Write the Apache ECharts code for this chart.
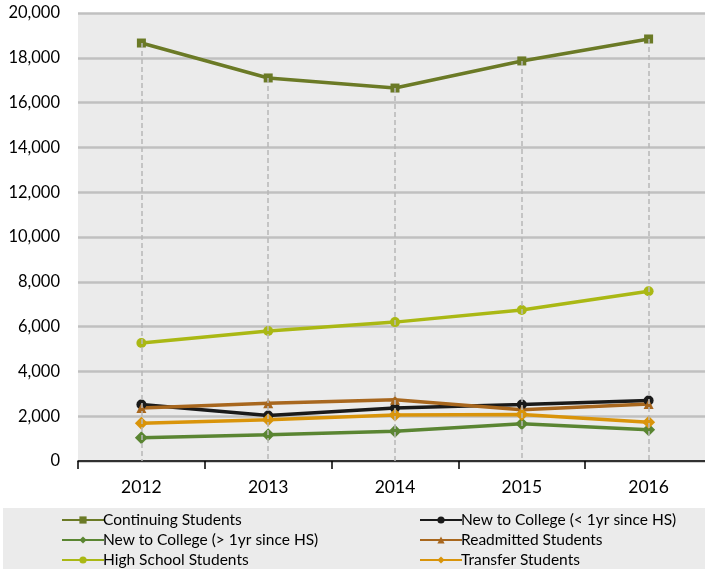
<!DOCTYPE html>
<html><head><meta charset="utf-8">
<script src="https://cdn.jsdelivr.net/npm/echarts@6/dist/echarts.min.js"></script>
<style>html,body{margin:0;padding:0;background:#fff;overflow:hidden}#c{width:713px;height:569px}</style>
</head><body><div id="c"></div>
<script>
const years = ['2012','2013','2014','2015','2016'];
const continuing = [18660, 17100, 16650, 17860, 18840];
const newLess1 = [2520, 2030, 2370, 2520, 2700];
const newMore1 = [1040, 1170, 1330, 1660, 1390];
const readmitted = [2370, 2580, 2730, 2290, 2550];
const highSchool = [5270, 5800, 6200, 6740, 7580];
const transfer = [1690, 1840, 2050, 2080, 1730];
const yTicks = {min: 0, max: 20000, interval: 2000};

const FONT = 'Lato';
function s(name, data, color, symbol, size) {
  return {name, type: 'line', data, symbol, symbolSize: size, z: 3,
    lineStyle: {color, width: 3.5}, itemStyle: {color}, animation: false};
}
const chart = echarts.init(document.getElementById('c'));
const legendCommon = {orient: 'vertical', top: 507, height: 80, itemWidth: 42, itemHeight: 9, itemGap: 4,
  textStyle: {fontSize: 15.5, color: '#000', fontFamily: FONT, padding: [0,0,0,-6]}};
chart.setOption({
  animation: false,
  textStyle: {fontFamily: FONT},
  graphic: [{type: 'rect', shape: {x: 3, y: 508, width: 710, height: 61}, style: {fill: '#ebebeb'}, z: -1}],
  grid: {left: 78, top: 13, right: 1, bottom: 108, show: true, backgroundColor: '#ebebeb', borderWidth: 0},
  xAxis: {type: 'category', data: years, boundaryGap: true,
    axisLine: {lineStyle: {color: '#000', width: 1.5}},
    axisTick: {show: true, length: 8, lineStyle: {color: '#000', width: 1.5}},
    axisLabel: {color: '#000', fontSize: 17.5, margin: 17, fontFamily: FONT},
    splitLine: {show: false}},
  yAxis: {type: 'value', min: yTicks.min, max: yTicks.max, interval: yTicks.interval,
    axisLine: {show: false}, axisTick: {show: false},
    axisLabel: {color: '#000', fontSize: 16.5, margin: 18, fontFamily: FONT,
      formatter: v => v.toLocaleString('en-US')},
    splitLine: {lineStyle: {color: '#c0c0c0', width: 2.5}}},
  legend: [
    Object.assign({left: 56, data: ['Continuing Students', 'New to College (> 1yr since HS)', 'High School Students']}, legendCommon),
    Object.assign({left: 414, data: ['New to College (< 1yr since HS)', 'Readmitted Students', 'Transfer Students']}, legendCommon)
  ],
  series: [
    {name: 'drop', type: 'line', data: [], z: 1, silent: true,
     markLine: {symbol: 'none', silent: true, label: {show: false},
       lineStyle: {color: '#b8b8b8', type: [5, 3], width: 1.5},
       data: continuing.map((v, i) => [{coord: [i, v]}, {coord: [i, 0]}])}},
    s('Continuing Students', continuing, '#6b7a26', 'rect', 9),
    s('New to College (< 1yr since HS)', newLess1, '#1a1a1a', 'circle', 10),
    s('New to College (> 1yr since HS)', newMore1, '#5a8532', 'diamond', 13),
    s('Readmitted Students', readmitted, '#a8671e', 'triangle', 10),
    s('High School Students', highSchool, '#aab814', 'circle', 10),
    s('Transfer Students', transfer, '#d9940a', 'diamond', 13)
  ]
});
</script></body></html>
